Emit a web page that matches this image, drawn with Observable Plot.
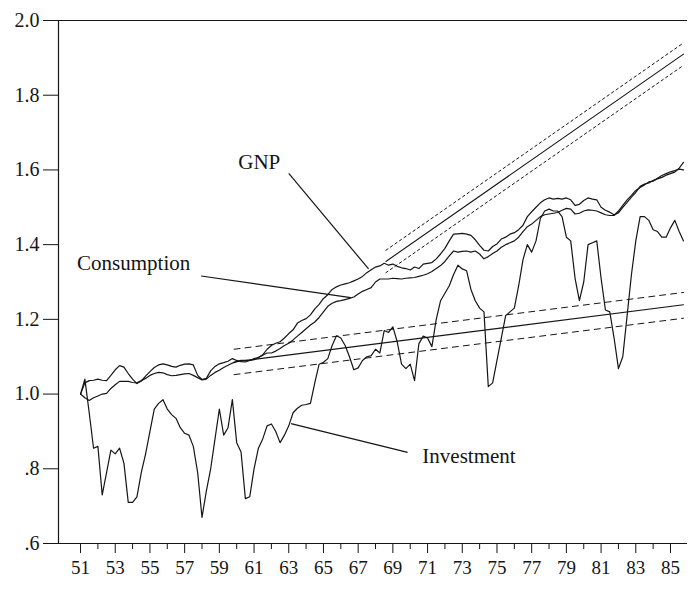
<!DOCTYPE html>
<html><head><meta charset="utf-8">
<script src="https://cdn.jsdelivr.net/npm/d3@7"></script>
<script src="https://cdn.jsdelivr.net/npm/@observablehq/plot@0.6"></script>
<style>body{margin:0;background:#fff} #chart{width:697px;height:590px}</style>
</head><body><div id="chart"></div>
<script>
// Quarterly series, 1951Q1 .. 1985Q4 (index = 1.0 at start)
const startYear = 51;
const seriesNames = ["GNP", "Consumption", "Investment"];
const gnp = [
1.000,1.030,1.036,1.037,1.040,1.037,1.036,1.050,1.065,1.076,
1.072,1.055,1.040,1.028,1.035,1.048,1.060,1.071,1.078,1.081,
1.078,1.074,1.072,1.077,1.080,1.081,1.078,1.050,1.039,1.042,
1.062,1.074,1.081,1.084,1.088,1.095,1.090,1.087,1.086,1.090,
1.095,1.098,1.105,1.120,1.130,1.136,1.140,1.150,1.162,1.172,
1.190,1.197,1.202,1.212,1.228,1.240,1.256,1.266,1.280,1.287,
1.292,1.295,1.298,1.303,1.308,1.315,1.325,1.333,1.340,1.343,
1.350,1.345,1.348,1.342,1.338,1.336,1.332,1.340,1.336,1.348,
1.350,1.352,1.362,1.375,1.390,1.410,1.428,1.429,1.430,1.428,
1.425,1.413,1.398,1.385,1.383,1.395,1.402,1.415,1.420,1.428,
1.432,1.440,1.452,1.475,1.488,1.500,1.512,1.520,1.525,1.522,
1.524,1.522,1.525,1.520,1.505,1.508,1.518,1.525,1.522,1.520,
1.500,1.492,1.487,1.480,1.485,1.500,1.513,1.527,1.540,1.556,
1.562,1.565,1.572,1.576,1.580,1.586,1.590,1.594,1.605,1.620];
const consumption = [
1.000,0.990,0.983,0.990,0.995,1.000,1.002,1.015,1.025,1.034,
1.034,1.034,1.031,1.030,1.036,1.042,1.050,1.055,1.058,1.057,
1.052,1.049,1.050,1.052,1.054,1.055,1.050,1.044,1.038,1.040,
1.050,1.058,1.064,1.071,1.077,1.083,1.087,1.090,1.090,1.090,
1.092,1.098,1.104,1.110,1.110,1.115,1.122,1.130,1.136,1.145,
1.155,1.165,1.175,1.185,1.193,1.205,1.220,1.235,1.243,1.248,
1.250,1.253,1.256,1.260,1.268,1.275,1.280,1.285,1.300,1.308,
1.308,1.308,1.310,1.309,1.308,1.310,1.311,1.312,1.315,1.318,
1.322,1.328,1.336,1.344,1.355,1.370,1.383,1.380,1.382,1.383,
1.380,1.383,1.375,1.362,1.368,1.376,1.383,1.393,1.400,1.405,
1.410,1.420,1.435,1.448,1.455,1.465,1.475,1.480,1.482,1.484,
1.486,1.492,1.497,1.495,1.482,1.484,1.490,1.493,1.492,1.490,
1.485,1.480,1.478,1.478,1.490,1.505,1.520,1.532,1.545,1.553,
1.560,1.568,1.570,1.578,1.585,1.590,1.595,1.598,1.602,1.600];
const investment = [
1.000,1.040,0.950,0.855,0.860,0.730,0.790,0.850,0.840,0.855,
0.815,0.710,0.710,0.725,0.790,0.840,0.900,0.960,0.975,0.985,
0.960,0.945,0.935,0.910,0.895,0.890,0.860,0.790,0.670,0.740,
0.800,0.880,0.960,0.890,0.910,0.985,0.870,0.845,0.720,0.725,
0.800,0.855,0.880,0.915,0.920,0.900,0.870,0.890,0.915,0.950,
0.962,0.970,0.972,0.975,1.030,1.080,1.085,1.095,1.130,1.156,
1.150,1.130,1.100,1.065,1.070,1.090,1.100,1.103,1.120,1.110,
1.170,1.165,1.180,1.140,1.080,1.068,1.080,1.036,1.135,1.155,
1.150,1.127,1.200,1.250,1.270,1.290,1.320,1.345,1.335,1.330,
1.280,1.250,1.230,1.220,1.020,1.030,1.090,1.150,1.210,1.220,
1.230,1.290,1.360,1.400,1.380,1.410,1.470,1.490,1.495,1.490,
1.490,1.475,1.420,1.410,1.310,1.250,1.300,1.400,1.405,1.410,
1.310,1.225,1.220,1.150,1.068,1.100,1.210,1.320,1.410,1.475,
1.475,1.465,1.440,1.435,1.420,1.420,1.445,1.465,1.435,1.410];

// Fitted trend lines with confidence bands (endpoints)
const steepYears = [68.6, 85.75];
const steepFit = [1.355, 1.910];
const steepUpper = [1.385, 1.940];
const steepLower = [1.325, 1.880];
const flatYears = [59.85, 85.75];
const flatFit = [1.086, 1.239];
const flatUpper = [1.120, 1.272];
const flatLower = [1.052, 1.203];

const yTicks = [0.6, 0.8, 1.0, 1.2, 1.4, 1.6, 1.8, 2.0];
const xLabeled = d3.range(51, 86, 2);
const xMinor = d3.range(52, 86, 2);

const valuesBySeries = [gnp, consumption, investment];
const data = [];
seriesNames.forEach((name, k) => valuesBySeries[k].forEach((v, i) => data.push({series: name, t: startYear + i / 4, v})));

function bandRows(years, vals, name) { return years.map((t, i) => ({band: name, t, v: vals[i]})); }
const solidTrend = [...bandRows(steepYears, steepFit, "steep"), ...bandRows(flatYears, flatFit, "flat")];
const steepBand = [...bandRows(steepYears, steepUpper, "su"), ...bandRows(steepYears, steepLower, "sl")];
const flatBand = [...bandRows(flatYears, flatUpper, "fu"), ...bandRows(flatYears, flatLower, "fl")];

const xDom = [49.73, 85.98];
const fmt = d => { const s = d.toFixed(1); return d < 1 ? s.replace(/^0/, "") : s; };
const ink = "#151515";

const chart = Plot.plot({
  width: 697, height: 590,
  marginLeft: 58, marginRight: 10, marginTop: 20, marginBottom: 47,
  style: {fontFamily: "'Liberation Serif', serif", fontSize: "19px", color: ink, background: "white"},
  x: {domain: xDom, label: null},
  y: {domain: [0.6, 2.0], label: null},
  marks: [
    Plot.ruleY([0.6, 2.0], {stroke: ink, strokeWidth: 1.2}),
    Plot.ruleX([xDom[0]], {stroke: ink, strokeWidth: 1.2}),
    Plot.axisY({ticks: yTicks, tickSize: 15, tickPadding: 4, tickFormat: fmt, fontSize: 20, label: null, stroke: ink}),
    Plot.axisX({ticks: xLabeled, tickSize: 10, tickPadding: 7, tickFormat: d => String(d), fontSize: 19, label: null, stroke: ink}),
    Plot.axisX({ticks: xMinor, tickSize: 6, tickFormat: () => "", label: null, stroke: ink}),
    Plot.line(steepBand, {x: "t", y: "v", z: "band", stroke: ink, strokeWidth: 1, strokeDasharray: "2.5,3"}),
    Plot.line(flatBand, {x: "t", y: "v", z: "band", stroke: ink, strokeWidth: 1, strokeDasharray: "6,5"}),
    Plot.line(solidTrend, {x: "t", y: "v", z: "band", stroke: ink, strokeWidth: 1.1}),
    Plot.line(data, {x: "t", y: "v", z: "series", stroke: ink, strokeWidth: 1.2}),
    Plot.link([0], {x1: 63.0, y1: 1.591, x2: 67.6, y2: 1.335, stroke: ink, strokeWidth: 1.2}),
    Plot.link([0], {x1: 57.95, y1: 1.316, x2: 66.57, y2: 1.258, stroke: ink, strokeWidth: 1.2}),
    Plot.link([0], {x1: 63.13, y1: 0.921, x2: 69.85, y2: 0.844, stroke: ink, strokeWidth: 1.2}),
    Plot.text(["GNP"], {x: 61.3, y: 1.62, text: d => d, fontSize: 21, fill: ink}),
    Plot.text(["Consumption"], {x: 50.8, y: 1.351, text: d => d, fontSize: 21, textAnchor: "start", fill: ink}),
    Plot.text(["Investment"], {x: 70.7, y: 0.833, text: d => d, fontSize: 21, textAnchor: "start", fill: ink})
  ]
});
document.getElementById("chart").appendChild(chart);
</script>
</body></html>
